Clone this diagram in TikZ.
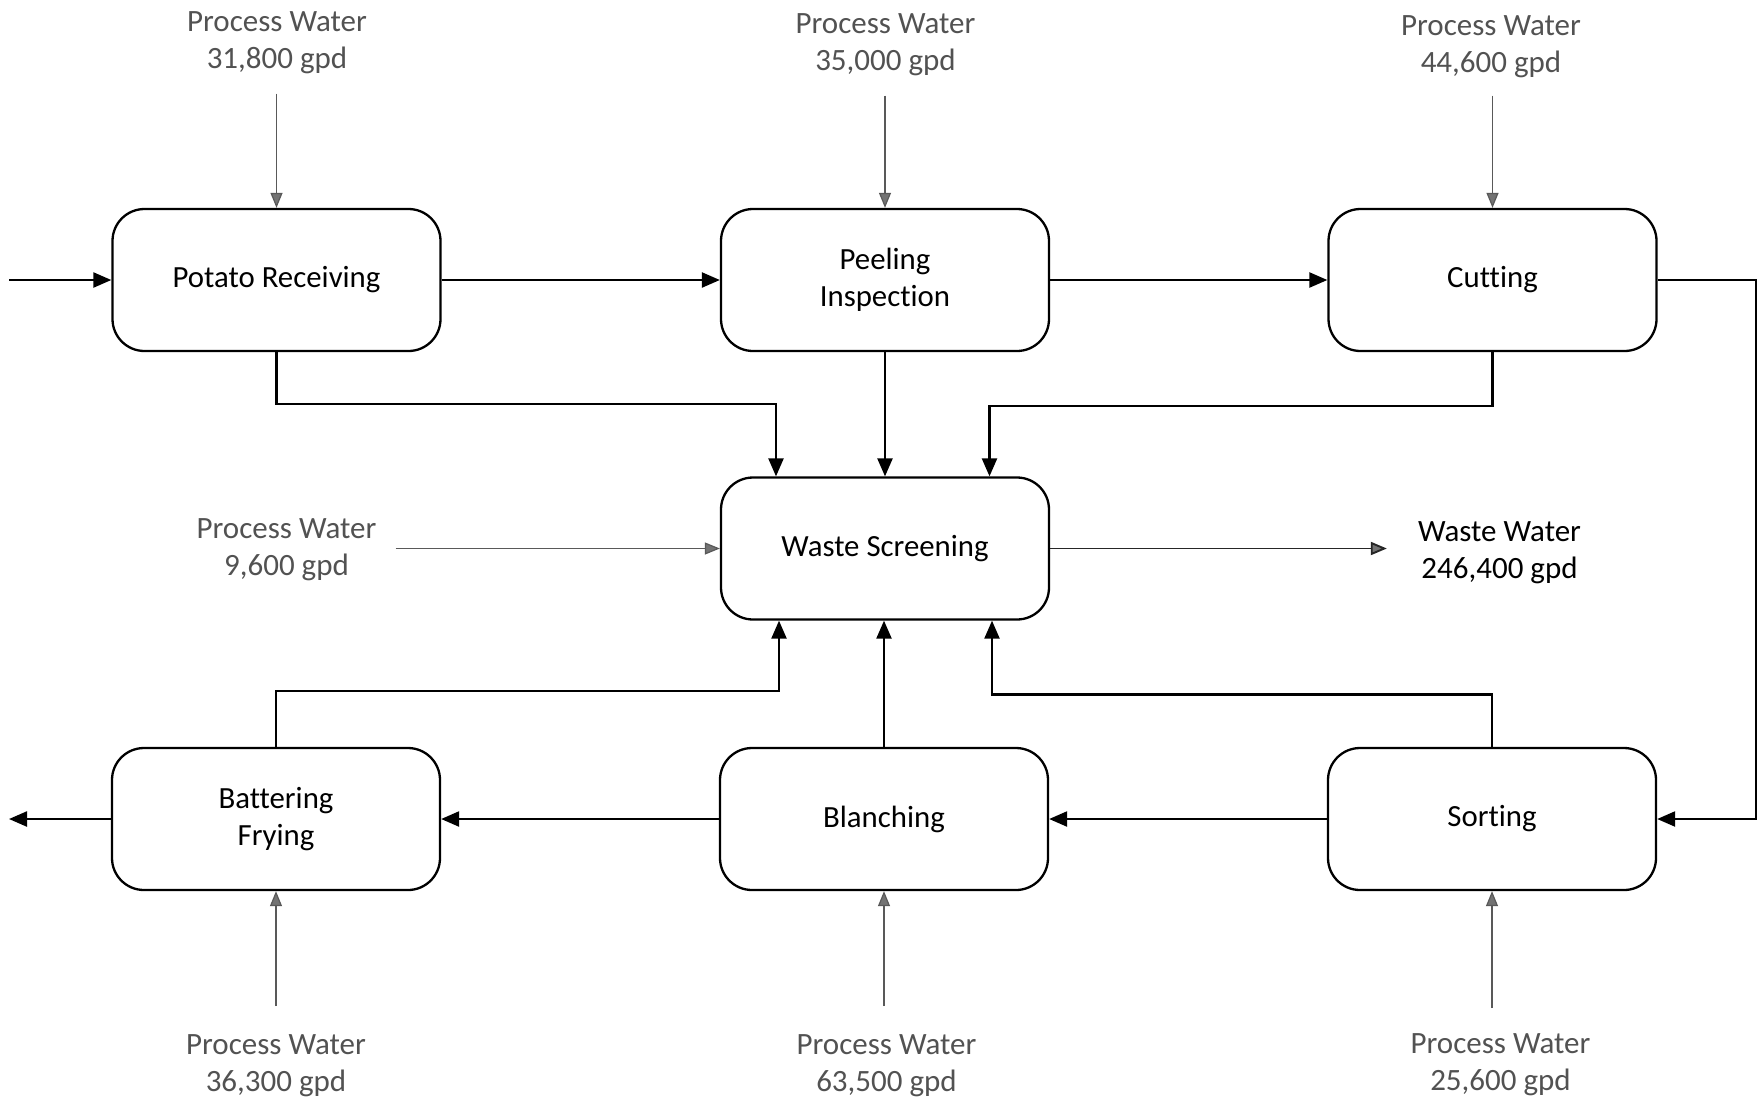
\documentclass[tikz,border=0pt]{standalone}
\usepackage{fontspec}
\setmainfont{Carlito}[Ligatures=NoCommon]
\usetikzlibrary{arrows.meta}
\begin{document}
\begin{tikzpicture}[x=1pt,y=-1pt,
  box/.style={draw, line width=2.3pt, rounded corners=32pt, minimum width=328pt, minimum height=142pt,
    align=center, inner sep=0pt, font=\fontsize{30.8}{37.3}\selectfont},
  pwlabel/.style={align=center, inner sep=0pt, text=black!68, font=\fontsize{31}{37}\selectfont},
  main/.style={line width=2.3pt, -{Triangle[length=18pt,width=15pt]}},
  water/.style={line width=1.2pt, draw=black!65, -{Triangle[length=15pt,width=12pt,fill=black!55]}},
  wout/.style={line width=1.9pt, draw=black!85, -{Triangle[length=16pt,width=13pt,fill=black!55]}}
]
\useasboundingbox (0,0) rectangle (1762,1104);

% process boxes
\node[box] (PR) at (276.5,280) {Potato Receiving};
\node[box] (PI) at (885,280) {Peeling\\Inspection};
\node[box] (CU) at (1492.5,280) {Cutting};
\node[box] (WS) at (885,548.5) {Waste Screening};
\node[box] (BF) at (276,819) {Battering\\Frying};
\node[box] (BL) at (884,819) {Blanching};
\node[box] (SO) at (1492,819) {Sorting};

% water labels
\node[pwlabel, anchor=north] (wPR) at (277,11) {Process Water\\31,800 gpd};
\node[pwlabel, anchor=north] (wPI) at (885.5,13) {Process Water\\35,000 gpd};
\node[pwlabel, anchor=north] (wCU) at (1491,15) {Process Water\\44,600 gpd};
\node[pwlabel, anchor=north] (wWS) at (286.5,518) {Process Water\\9,600 gpd};
\node[pwlabel, anchor=north, text=black] (WW) at (1499.5,521) {Waste Water\\246,400 gpd};
\node[pwlabel, anchor=north] (wBF) at (276,1034) {Process Water\\36,300 gpd};
\node[pwlabel, anchor=north] (wBL) at (886.5,1034) {Process Water\\63,500 gpd};
\node[pwlabel, anchor=north] (wSO) at (1500.5,1033) {Process Water\\25,600 gpd};

% free ends
\coordinate (in) at (9,280);
\coordinate (out) at (9,819);

% main product flow
\draw[main] (in) -- (PR.west);
\draw[main] (PR.east) -- (PI.west);
\draw[main] (PI.east) -- (CU.west);
\draw[main] (CU.east) -- ++(98,0) |- (SO.east);
\draw[main] (SO.west) -- (BL.east);
\draw[main] (BL.west) -- (BF.east);
\draw[main] (BF.west) -- (out);

% waste flows to screening
\draw[main] (PR.south) -- ++(0,52) -| ([xshift=-109pt]WS.north);
\draw[main] (PI.south) -- (WS.north);
\draw[main] (CU.south) -- ++(0,54) -| ([xshift=104.5pt]WS.north);
\draw[main] (BF.north) -- ++(0,-56) -| ([xshift=-106pt]WS.south);
\draw[main] (BL.north) -- (BL.north |- WS.south);
\draw[main] (SO.north) -- ++(0,-52.5) -| ([xshift=107pt]WS.south);

% process water inputs
\draw[water, shorten <=20pt] (PR.north |- wPR.south) -- (PR.north);
\draw[water, shorten <=20pt] (PI.north |- wPI.south) -- (PI.north);
\draw[water, shorten <=18pt] (CU.north |- wCU.south) -- (CU.north);
\draw[water, shorten <=19pt] (wWS.east |- WS.west) -- (WS.west);
\draw[water, shorten <=28pt] (BF.south |- wBF.north) -- (BF.south);
\draw[water, shorten <=28pt] (BL.south |- wBL.north) -- (BL.south);
\draw[water, shorten <=25pt] (SO.south |- wSO.north) -- (SO.south);

% waste water out
\draw[wout, shorten >=31pt] (WS.east) -- (WS.east -| WW.west);
\end{tikzpicture}
\end{document}
